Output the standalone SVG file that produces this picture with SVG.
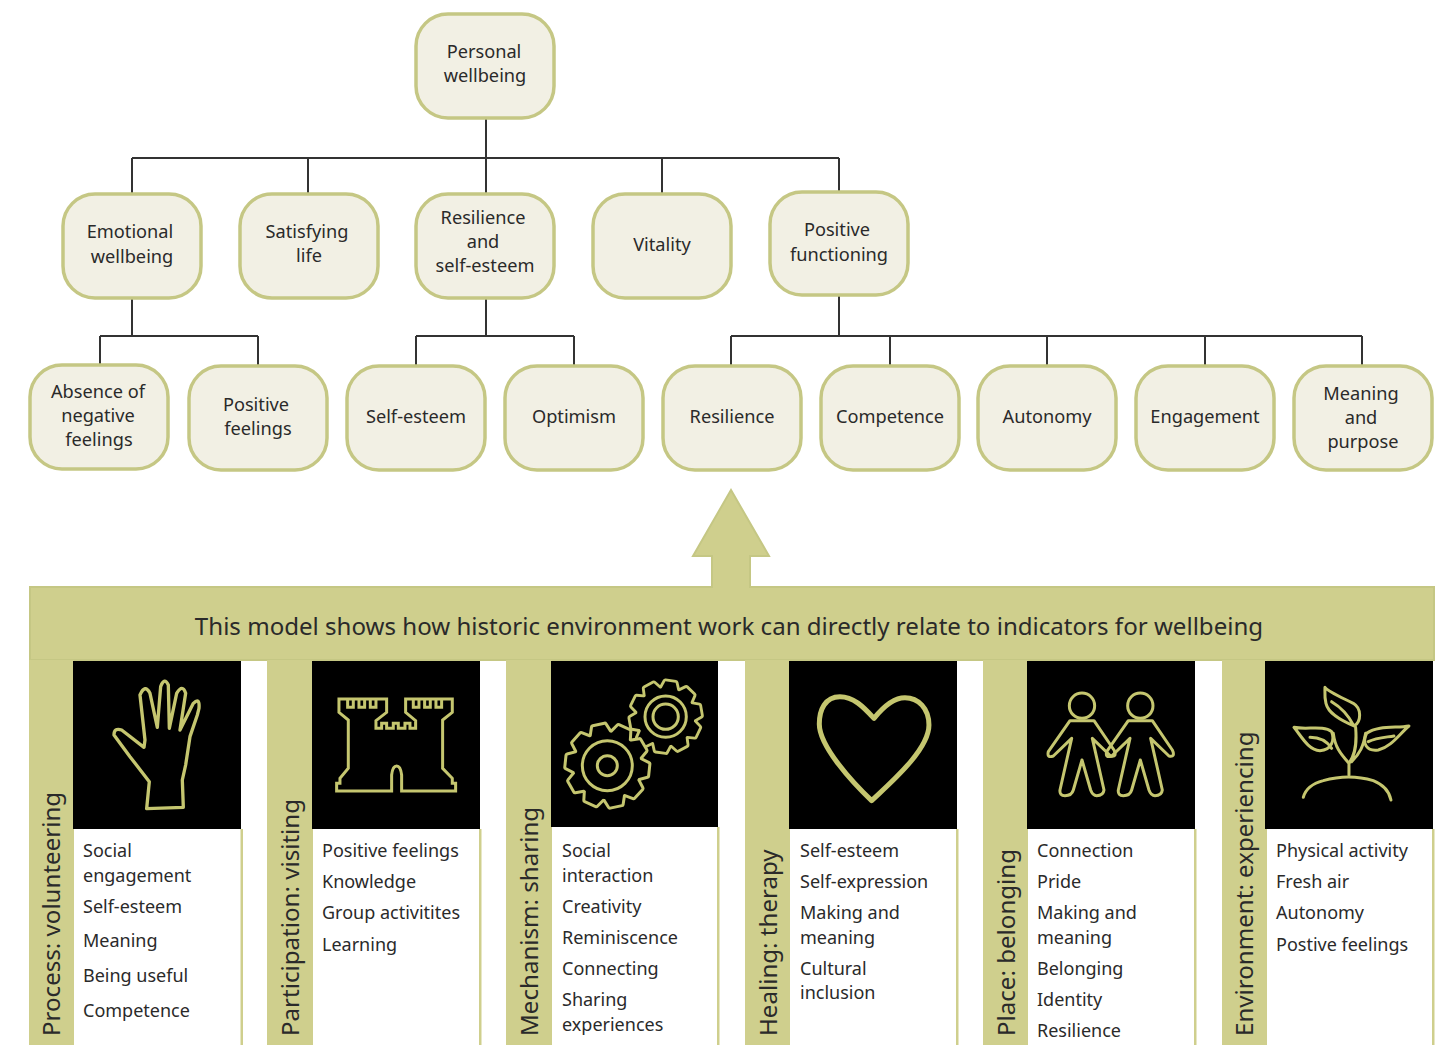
<svg xmlns="http://www.w3.org/2000/svg" width="1445" height="1045" viewBox="0 0 1445 1045">
<style>
text{font-family:"Noto Sans","Open Sans",sans-serif;font-size:18px;fill:#2a2a2a}
.n rect{fill:#f2f0e4;stroke:#c5c784;stroke-width:3.500}
.n text{text-anchor:middle;font-size:18.200px}
.c{fill:none;stroke:#333;stroke-width:2}
.s{fill:#cfcf8d}
.v{font-size:24.100px}
.i{fill:none;stroke:#c5c66f;stroke-width:10;stroke-linejoin:round;stroke-linecap:round}
</style>
<defs>
<g id="gear"><circle r="100"/>
<polygon id="t" points="-18,-122 18,-122 30,-90 -30,-90"/>
<use href="#t" transform="rotate(36)"/><use href="#t" transform="rotate(72)"/><use href="#t" transform="rotate(108)"/><use href="#t" transform="rotate(144)"/><use href="#t" transform="rotate(180)"/><use href="#t" transform="rotate(216)"/><use href="#t" transform="rotate(252)"/><use href="#t" transform="rotate(288)"/><use href="#t" transform="rotate(324)"/>
</g>
<path id="person" d="M300,212 L372,212 L432,300 Q442,322 422,318 L367,265 L402,420 Q400,437 380,437 Q368,437 362,420 L336,330 L310,420 Q305,437 285,437 Q268,437 270,420 L305,265 L250,318 Q230,325 235,305 Z"/>
</defs>
<rect width="1445" height="1045" fill="#fff"/>
<g id="connectors" class="c">
<path d="M486,118V194M132,158H839M132,158V194M308,158V194M662,158V194M839,158V192"/>
<path d="M132,298V336M100,336H258M100,336V365M258,336V366"/>
<path d="M486,298V336M416,336H574M416,336V366M574,336V366"/>
<path d="M839,295V336M731,336H1362M731,336V366M890,336V366M1047,336V366M1205,336V366M1362,336V366"/>
</g>
<g id="personal-wellbeing" class="n"><rect x="416" y="14" width="138" height="104" rx="32"/><text x="484" y="58">Personal</text><text x="485" y="82">wellbeing</text></g>
<g id="emotional-wellbeing" class="n"><rect x="63" y="194" width="138" height="104" rx="32"/><text x="130" y="238">Emotional</text><text x="132" y="263">wellbeing</text></g>
<g id="satisfying-life" class="n"><rect x="240" y="194" width="138" height="104" rx="32"/><text x="307" y="238">Satisfying</text><text x="309" y="262">life</text></g>
<g id="resilience-self-esteem" class="n"><rect x="416" y="194" width="138" height="104" rx="32"/><text x="483" y="224">Resilience</text><text x="483" y="248">and</text><text x="485" y="272">self-esteem</text></g>
<g id="vitality" class="n"><rect x="593" y="194" width="138" height="104" rx="32"/><text x="662" y="251">Vitality</text></g>
<g id="positive-functioning" class="n"><rect x="770" y="192" width="138" height="103" rx="32"/><text x="837" y="236">Positive</text><text x="839" y="261">functioning</text></g>
<g id="absence" class="n"><rect x="30" y="365" width="138" height="104" rx="32"/><text x="98" y="398">Absence of</text><text x="98" y="422">negative</text><text x="99" y="446">feelings</text></g>
<g id="positive-feelings" class="n"><rect x="189" y="366" width="138" height="104" rx="32"/><text x="256" y="411">Positive</text><text x="258" y="435">feelings</text></g>
<g id="self-esteem" class="n"><rect x="347" y="366" width="138" height="104" rx="32"/><text x="416" y="423">Self-esteem</text></g>
<g id="optimism" class="n"><rect x="505" y="366" width="138" height="104" rx="32"/><text x="574" y="423">Optimism</text></g>
<g id="resilience" class="n"><rect x="663" y="366" width="138" height="104" rx="32"/><text x="732" y="423">Resilience</text></g>
<g id="competence" class="n"><rect x="821" y="366" width="138" height="104" rx="32"/><text x="890" y="423">Competence</text></g>
<g id="autonomy" class="n"><rect x="978" y="366" width="138" height="104" rx="32"/><text x="1047" y="423">Autonomy</text></g>
<g id="engagement" class="n"><rect x="1136" y="366" width="138" height="104" rx="32"/><text x="1205" y="423">Engagement</text></g>
<g id="meaning-purpose" class="n"><rect x="1294" y="366" width="138" height="104" rx="32"/><text x="1361" y="400">Meaning</text><text x="1361" y="424">and</text><text x="1363" y="448">purpose</text></g>

<g id="banner">
<path d="M731,490L769,556H750V587H1434V660H30V587H712V556H693Z" class="s" stroke="#c5c784" stroke-width="2"/>
<text x="729" y="635" text-anchor="middle" style="font-size:24.080px">This model shows how historic environment work can directly relate to indicators for wellbeing</text>
</g>

<g id="col-process">
<rect class="s" x="29" y="660" width="45" height="385"/><rect x="73" y="661" width="168" height="168"/><rect class="s" x="240.500" y="829" width="2.500" height="216"/>
<text class="v" transform="translate(60,1036) rotate(-90)">Process: volunteering</text>
<text x="83" y="857">Social</text><text x="83" y="882">engagement</text><text x="83" y="913">Self-esteem</text><text x="83" y="947">Meaning</text><text x="83" y="982">Being useful</text><text x="83" y="1017">Competence</text>
<path class="i" transform="translate(20,650) scale(.3333)" d="M380,476 L388,395 L330,320 L282,255 Q282,232 305,240 L372,292 L375,270 L360,135 Q375,100 390,130 L412,232 L422,110 Q433,80 445,105 L448,235 L470,130 Q488,100 497,130 L480,240 L520,160 Q540,140 537,175 L532,195 L510,260 L497,345 L487,390 L490,472 Z"/>
</g>
<g id="col-participation">
<rect class="s" x="267" y="660" width="46" height="385"/><rect x="312" y="661" width="168" height="168"/><rect class="s" x="479" y="829" width="2.500" height="216"/>
<text class="v" transform="translate(299,1036) rotate(-90)">Participation: visiting</text>
<text x="322" y="857">Positive feelings</text><text x="322" y="888">Knowledge</text><text x="322" y="919">Group activitites</text><text x="322" y="951">Learning</text>
<path class="i" style="stroke-width:9;stroke-linecap:butt;stroke-linejoin:miter" transform="translate(20,650) scale(.3333)" d="M957,147 V187 L985,210 V355 L960,385 V400 H950 V423 H1115 V375 Q1118,348 1130,348 Q1142,348 1145,375 V423 H1307 V400 H1297 V385 L1268,355 V210 L1297,187 V147 H1157 V187 L1187,212 V235 H1170 V220 H1155 V235 H1135 V220 H1120 V235 H1100 V220 H1085 V235 H1068 V212 L1100,187 V147 Z M983,147 V172 H1000 V150 M1017,150 V172 H1034 V150 M1051,150 V172 H1068 V150 M1180,150 V172 H1197 V150 M1214,150 V172 H1231 V150 M1248,150 V172 H1265 V150"/>
</g>
<g id="col-mechanism">
<rect class="s" x="506" y="660" width="46" height="385"/><rect x="551" y="661" width="167" height="166"/><rect class="s" x="717" y="827" width="2.500" height="218"/>
<text class="v" transform="translate(538,1036) rotate(-90)">Mechanism: sharing</text>
<text x="562" y="857">Social</text><text x="562" y="882">interaction</text><text x="562" y="913">Creativity</text><text x="562" y="944">Reminiscence</text><text x="562" y="975">Connecting</text><text x="562" y="1006">Sharing</text><text x="562" y="1031">experiences</text>
<g transform="translate(500,650) scale(.3333)">
<use href="#gear" transform="translate(497,200) scale(.86) rotate(8)" fill="#c5c66f" stroke="#c5c66f" stroke-width="20" stroke-linejoin="round"/>
<use href="#gear" transform="translate(497,200) scale(.86) rotate(8)" fill="#000"/>
<use href="#gear" transform="translate(322,347) rotate(-12)" fill="#c5c66f" stroke="#c5c66f" stroke-width="18" stroke-linejoin="round"/>
<use href="#gear" transform="translate(322,347) rotate(-12)" fill="#000"/>
<g class="i" style="stroke-width:9"><circle cx="322" cy="347" r="75"/><circle cx="322" cy="347" r="30"/><circle cx="497" cy="200" r="62"/><circle cx="497" cy="200" r="38"/></g>
</g>
</g>
<g id="col-healing">
<rect class="s" x="745" y="660" width="45" height="385"/><rect x="789" y="661" width="168" height="168"/><rect class="s" x="956" y="829" width="2.500" height="216"/>
<text class="v" transform="translate(777,1036) rotate(-90)">Healing: therapy</text>
<text x="800" y="857">Self-esteem</text><text x="800" y="888">Self-expression</text><text x="800" y="919">Making and</text><text x="800" y="944">meaning</text><text x="800" y="975">Cultural</text><text x="800" y="999">inclusion</text>
<path class="i" style="stroke-width:15" transform="translate(500,650) scale(.3333)" d="M1122,205 C1090,170 1060,140 1020,140 C975,140 958,180 958,222 C958,290 1060,400 1115,452 C1170,400 1287,300 1287,225 C1287,175 1255,143 1215,143 C1180,143 1150,170 1122,205Z"/>
</g>
<g id="col-place">
<rect class="s" x="983" y="660" width="45" height="385"/><rect x="1027" y="661" width="168" height="168"/><rect class="s" x="1194" y="829" width="2.500" height="216"/>
<text class="v" transform="translate(1015,1036) rotate(-90)">Place: belonging</text>
<text x="1037" y="857">Connection</text><text x="1037" y="888">Pride</text><text x="1037" y="919">Making and</text><text x="1037" y="944">meaning</text><text x="1037" y="975">Belonging</text><text x="1037" y="1006">Identity</text><text x="1037" y="1037">Resilience</text>
<g class="i" style="stroke-width:9" transform="translate(970,650) scale(.3333)"><circle cx="336" cy="167" r="38"/><circle cx="511" cy="167" r="38"/><use href="#person"/><use href="#person" x="175"/></g>
</g>
<g id="col-environment">
<rect class="s" x="1222" y="660" width="45" height="385"/><rect x="1265" y="661" width="168" height="168"/><rect class="s" x="1432" y="829" width="2.500" height="216"/>
<text class="v" transform="translate(1253,1036) rotate(-90)">Environment: experiencing</text>
<text x="1276" y="857">Physical activity</text><text x="1276" y="888">Fresh air</text><text x="1276" y="919">Autonomy</text><text x="1276" y="951">Postive feelings</text>
<g class="i" style="stroke-width:9" transform="translate(970,650) scale(.3333)">
<path d="M1000,442 Q1010,405 1060,392 Q1137,370 1210,392 Q1255,410 1263,450"/>
<path d="M1137,375 L1137,340 C1160,310 1160,270 1157,232M1137,340 C1110,310 1095,290 1090,250M1145,335 C1170,310 1180,290 1187,250"/>
<path d="M1065,112 C1075,125 1110,140 1150,160 C1175,175 1175,215 1152,228 C1110,210 1075,190 1068,160 C1063,140 1065,125 1065,112Z M1085,155 C1110,170 1135,195 1150,225"/>
<path d="M972,232 C1010,240 1060,225 1085,245 C1095,270 1085,300 1050,302 C1015,300 995,260 972,232Z M1020,262 C1050,262 1070,272 1085,295"/>
<path d="M1317,228 C1280,235 1225,225 1190,250 C1175,280 1190,305 1225,300 C1265,290 1290,250 1317,228Z M1195,275 C1220,262 1250,262 1272,258"/>
</g>
</g>
</svg>
